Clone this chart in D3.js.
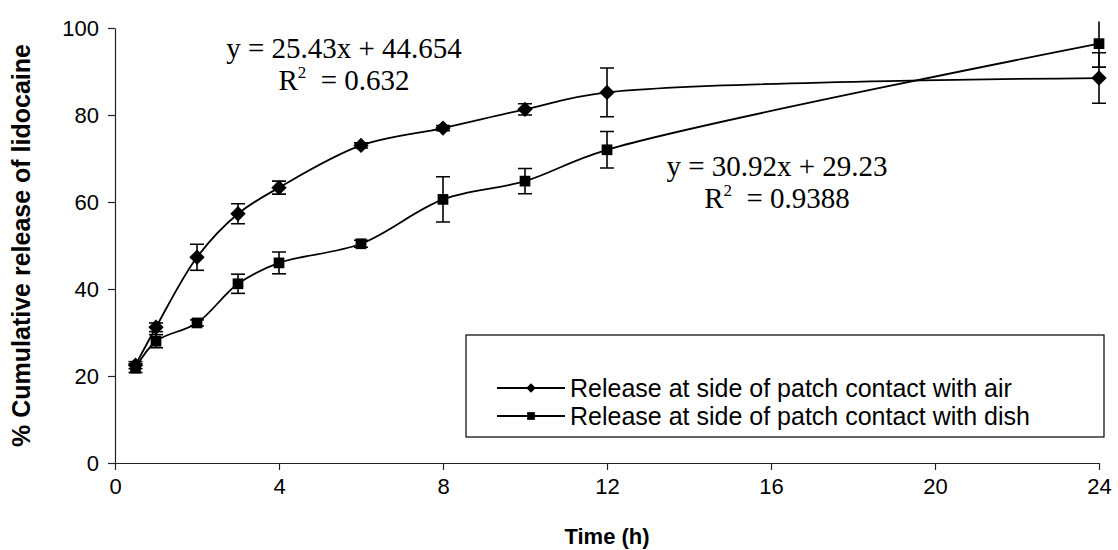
<!DOCTYPE html>
<html>

<head>
    <meta charset="UTF-8">
    <title>Cumulative release of lidocaine</title>
    <script src="https://d3js.org/d3.v7.min.js"></script>
    <style>
        body { margin: 0; background: #fff; }
        text { font-family: "Liberation Sans", Arial, sans-serif; }
    </style>
</head>

<body>
    <div class="canvas"></div>

    <script>
        // data
        const times = [0.5, 1, 2, 3, 4, 6, 8, 10, 12, 24];
        const airMean = [22.5, 31.2, 47.3, 57.3, 63.3, 73.0, 77.0, 81.3, 85.2, 88.5];
        const airErr = [0.8, 1.0, 3.0, 2.3, 1.5, 0.6, 0.6, 1.3, 5.6, 5.8];
        const dishMean = [21.8, 28.0, 32.2, 41.2, 46.0, 50.4, 60.6, 64.8, 72.0, 96.4];
        const dishErr = [1.0, 1.5, 0.7, 2.2, 2.5, 0.8, 5.2, 2.9, 4.2, 5.4];
        const xTicks = [0, 4, 8, 12, 16, 20, 24];
        const yTicks = [0, 20, 40, 60, 80, 100];
        const seriesNames = ["Release at side of patch contact with air", "Release at side of patch contact with dish"];

        const width = 1118;
        const height = 550;
        const margin = { top: 28, right: 19, bottom: 87, left: 115 };

        const svg = d3.select(".canvas")
            .append("svg")
            .attr("width", width)
            .attr("height", height);

        const xScale = d3.scaleLinear()
            .domain([0, 24])
            .range([margin.left, width - margin.right]);

        const yScale = d3.scaleLinear()
            .domain([0, 100])
            .range([height - margin.bottom, margin.top]);

        // clip for error bars that run past the top of the plot
        svg.append("clipPath").attr("id", "plotclip")
            .append("rect")
            .attr("x", 0).attr("y", yScale(101.5))
            .attr("width", width).attr("height", height);

        // axes
        const xAxis = d3.axisBottom(xScale).tickValues(xTicks).tickSize(7).tickSizeOuter(0).tickPadding(8);
        const yAxis = d3.axisLeft(yScale).tickValues(yTicks).tickSize(7).tickSizeOuter(0).tickPadding(9);

        const xAxisGroup = svg.append("g")
            .attr("transform", `translate(0, ${yScale(0)})`)
            .call(xAxis);
        const yAxisGroup = svg.append("g")
            .attr("transform", `translate(${xScale(0)}, 0)`)
            .call(yAxis);

        [xAxisGroup, yAxisGroup].forEach(g => {
            g.selectAll("path, line").attr("stroke", "#222").attr("stroke-width", 1.2);
            g.selectAll("text").attr("font-size", 22).attr("fill", "#000")
                .attr("font-family", "'Liberation Sans', Arial, sans-serif");
        });

        // axis titles
        svg.append("text")
            .attr("x", (xScale(0) + xScale(24)) / 2)
            .attr("y", 544)
            .attr("text-anchor", "middle")
            .attr("font-size", 22)
            .attr("font-weight", "bold")
            .text("Time (h)");

        svg.append("text")
            .attr("transform", `translate(30, ${(yScale(0) + yScale(100)) / 2}) rotate(-90)`)
            .attr("text-anchor", "middle")
            .attr("font-size", 25)
            .attr("font-weight", "bold")
            .text("% Cumulative release of lidocaine");

        const series = [
            { name: seriesNames[0], mean: airMean, err: airErr, symbol: d3.symbolDiamond2 },
            { name: seriesNames[1], mean: dishMean, err: dishErr, symbol: d3.symbolSquare }
        ];

        const line = d3.line()
            .x(d => xScale(d.t))
            .y(d => yScale(d.v))
            .curve(d3.curveCatmullRom.alpha(0.5));

        series.forEach(s => {
            const pts = times.map((t, i) => ({ t: t, v: s.mean[i], e: s.err[i] }));

            svg.append("path")
                .datum(pts)
                .attr("d", line)
                .attr("fill", "none")
                .attr("stroke", "#000")
                .attr("stroke-width", 1.8);

            // error bars
            const eb = svg.append("g").attr("clip-path", "url(#plotclip)")
                .selectAll("g").data(pts).enter().append("g")
                .attr("stroke", "#000").attr("stroke-width", 1.6);
            eb.append("line")
                .attr("x1", d => xScale(d.t)).attr("x2", d => xScale(d.t))
                .attr("y1", d => yScale(d.v - d.e)).attr("y2", d => yScale(d.v + d.e));
            eb.append("line")
                .attr("x1", d => xScale(d.t) - 7).attr("x2", d => xScale(d.t) + 7)
                .attr("y1", d => yScale(d.v - d.e)).attr("y2", d => yScale(d.v - d.e));
            eb.append("line")
                .attr("x1", d => xScale(d.t) - 7).attr("x2", d => xScale(d.t) + 7)
                .attr("y1", d => yScale(d.v + d.e)).attr("y2", d => yScale(d.v + d.e));

            svg.append("g").selectAll("path").data(pts).enter().append("path")
                .attr("d", d3.symbol().type(s.symbol).size(s.symbol === d3.symbolSquare ? 115 : 150))
                .attr("transform", d => `translate(${xScale(d.t)}, ${yScale(d.v)})`)
                .attr("fill", "#000");
        });

        // trendline equations
        const eqs = [
            { x: 344, y: 58, l1: "y = 25.43x + 44.654", r: "0.632" },
            { x: 777, y: 176, l1: "y = 30.92x + 29.23", r: "0.9388" }
        ];
        eqs.forEach(q => {
            const g = svg.append("g").attr("font-size", 29);
            g.append("text").attr("x", q.x).attr("y", q.y).attr("text-anchor", "middle")
                .style("font-family", "'Liberation Serif', 'Times New Roman', serif").text(q.l1);
            const t2 = g.append("text").attr("x", q.x).attr("y", q.y + 32).attr("text-anchor", "middle")
                .style("font-family", "'Liberation Serif', 'Times New Roman', serif");
            t2.append("tspan").text("R");
            t2.append("tspan").attr("font-size", 17).attr("dy", -12).text("2");
            t2.append("tspan").attr("dy", 12).text("\u00a0 = " + q.r);
        });

        // legend
        const lg = svg.append("g");
        lg.append("rect")
            .attr("x", 466).attr("y", 335).attr("width", 638).attr("height", 102)
            .attr("fill", "#fff").attr("stroke", "#000").attr("stroke-width", 1.2);
        series.forEach((s, i) => {
            const cy = 388 + i * 28;
            lg.append("line").attr("x1", 497).attr("x2", 565).attr("y1", cy).attr("y2", cy)
                .attr("stroke", "#000").attr("stroke-width", 1.8);
            lg.append("path")
                .attr("d", d3.symbol().type(s.symbol).size(60))
                .attr("transform", `translate(531, ${cy})`)
                .attr("fill", "#000");
            lg.append("text").attr("x", 570).attr("y", cy).attr("dy", "0.36em")
                .attr("font-size", 25).text(s.name);
        });
    </script>
</body>

</html>
